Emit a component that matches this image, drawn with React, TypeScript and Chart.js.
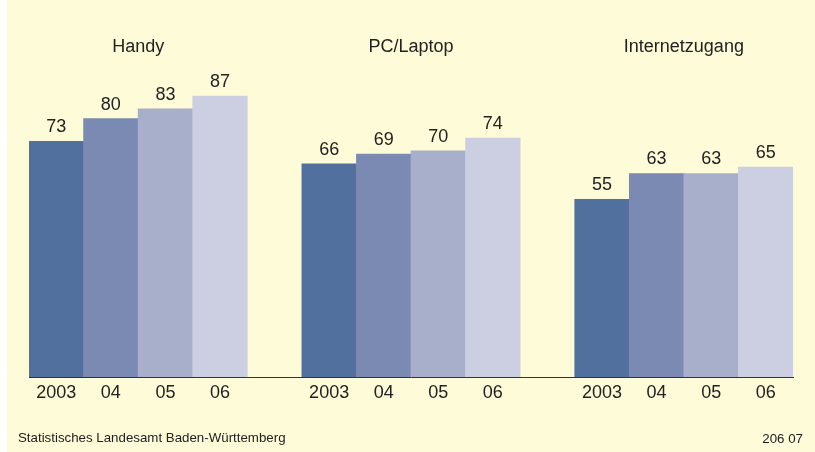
import React, { useEffect, useRef } from "react";
import { Chart, registerables } from "chart.js";

Chart.register(...registerables);

const groups = ["Handy", "PC/Laptop", "Internetzugang"];
const yearLabels = ["2003", "04", "05", "06"];
const handy = [73, 80, 83, 87];
const pcLaptop = [66, 69, 70, 74];
const internet = [55, 63, 63, 65];
const barColors = ["#52709E", "#7B8AB2", "#A8AFCB", "#CCCFE1"];
const source = "Statistisches Landesamt Baden-Württemberg";
const code = "206 07";

const BG = "#FEFBD8";
const TEXT = "#222222";
const FONT = "'Liberation Sans', Arial, sans-serif";

// Build the 14 category slots: 4 bars, gap, 4 bars, gap, 4 bars
const seriesList = [handy, pcLaptop, internet];
const labels: string[] = [];
const values: (number | null)[] = [];
const colors: string[] = [];
seriesList.forEach((s, gi) => {
  s.forEach((v, i) => {
    labels.push(yearLabels[i]);
    values.push(v);
    colors.push(barColors[i]);
  });
  if (gi < seriesList.length - 1) {
    labels.push("");
    values.push(null);
    colors.push("rgba(0,0,0,0)");
  }
});

const decorPlugin = {
  id: "decor",
  beforeDraw(chart: any) {
    const { ctx, width, height } = chart;
    ctx.save();
    ctx.fillStyle = "#ffffff";
    ctx.fillRect(0, 0, width, height);
    ctx.fillStyle = BG;
    ctx.fillRect(7, 0, width - 7, height);
    ctx.restore();
  },
  afterDatasetsDraw(chart: any) {
    const { ctx } = chart;
    const meta = chart.getDatasetMeta(0);
    ctx.save();
    ctx.fillStyle = TEXT;
    ctx.textAlign = "center";
    ctx.textBaseline = "middle";
    ctx.font = `18px ${FONT}`;
    meta.data.forEach((el: any, i: number) => {
      const v = values[i];
      if (v == null) return;
      ctx.fillText(String(v), el.x, el.y - 14);
    });
    // group titles
    groups.forEach((g, gi) => {
      const first = meta.data[gi * 5];
      const last = meta.data[gi * 5 + 3];
      const cx = (first.x + last.x) / 2;
      ctx.fillText(g, cx, 47);
    });
    // footer
    ctx.font = `13.3px ${FONT}`;
    ctx.textAlign = "left";
    ctx.fillText(source, 18, 438);
    ctx.textAlign = "right";
    ctx.fillText(code, 803, 439);
    ctx.restore();
  },
};

export default function App() {
  const ref = useRef<HTMLCanvasElement | null>(null);
  useEffect(() => {
    document.body.style.margin = "0";
    document.body.style.background = BG;
    document.body.style.overflow = "hidden";
    const chart = new Chart(ref.current as HTMLCanvasElement, {
      type: "bar",
      data: {
        labels,
        datasets: [
          {
            data: values,
            backgroundColor: colors,
            borderWidth: 0,
            barPercentage: 1,
            categoryPercentage: 1,
          },
        ],
      },
      options: {
        animation: false,
        responsive: false,
        maintainAspectRatio: false,
        layout: { padding: { top: 54, left: 29, right: 22, bottom: 43.4 } },
        plugins: {
          legend: { display: false },
          tooltip: { enabled: false },
          title: { display: false },
        },
        scales: {
          x: {
            grid: { display: false, drawTicks: false },
            border: { display: true, color: "#333333", width: 1 },
            ticks: {
              color: TEXT,
              font: { family: FONT, size: 18 },
              padding: 5,
              maxRotation: 0,
              autoSkip: false,
            },
          },
          y: {
            display: false,
            min: 0,
            max: 100,
          },
        },
      },
      plugins: [decorPlugin],
    } as any);
    return () => chart.destroy();
  }, []);
  return (
    <div style={{ width: 815, height: 452 }}>
      <canvas ref={ref} width={815} height={452} style={{ display: "block" }} />
    </div>
  );
}
